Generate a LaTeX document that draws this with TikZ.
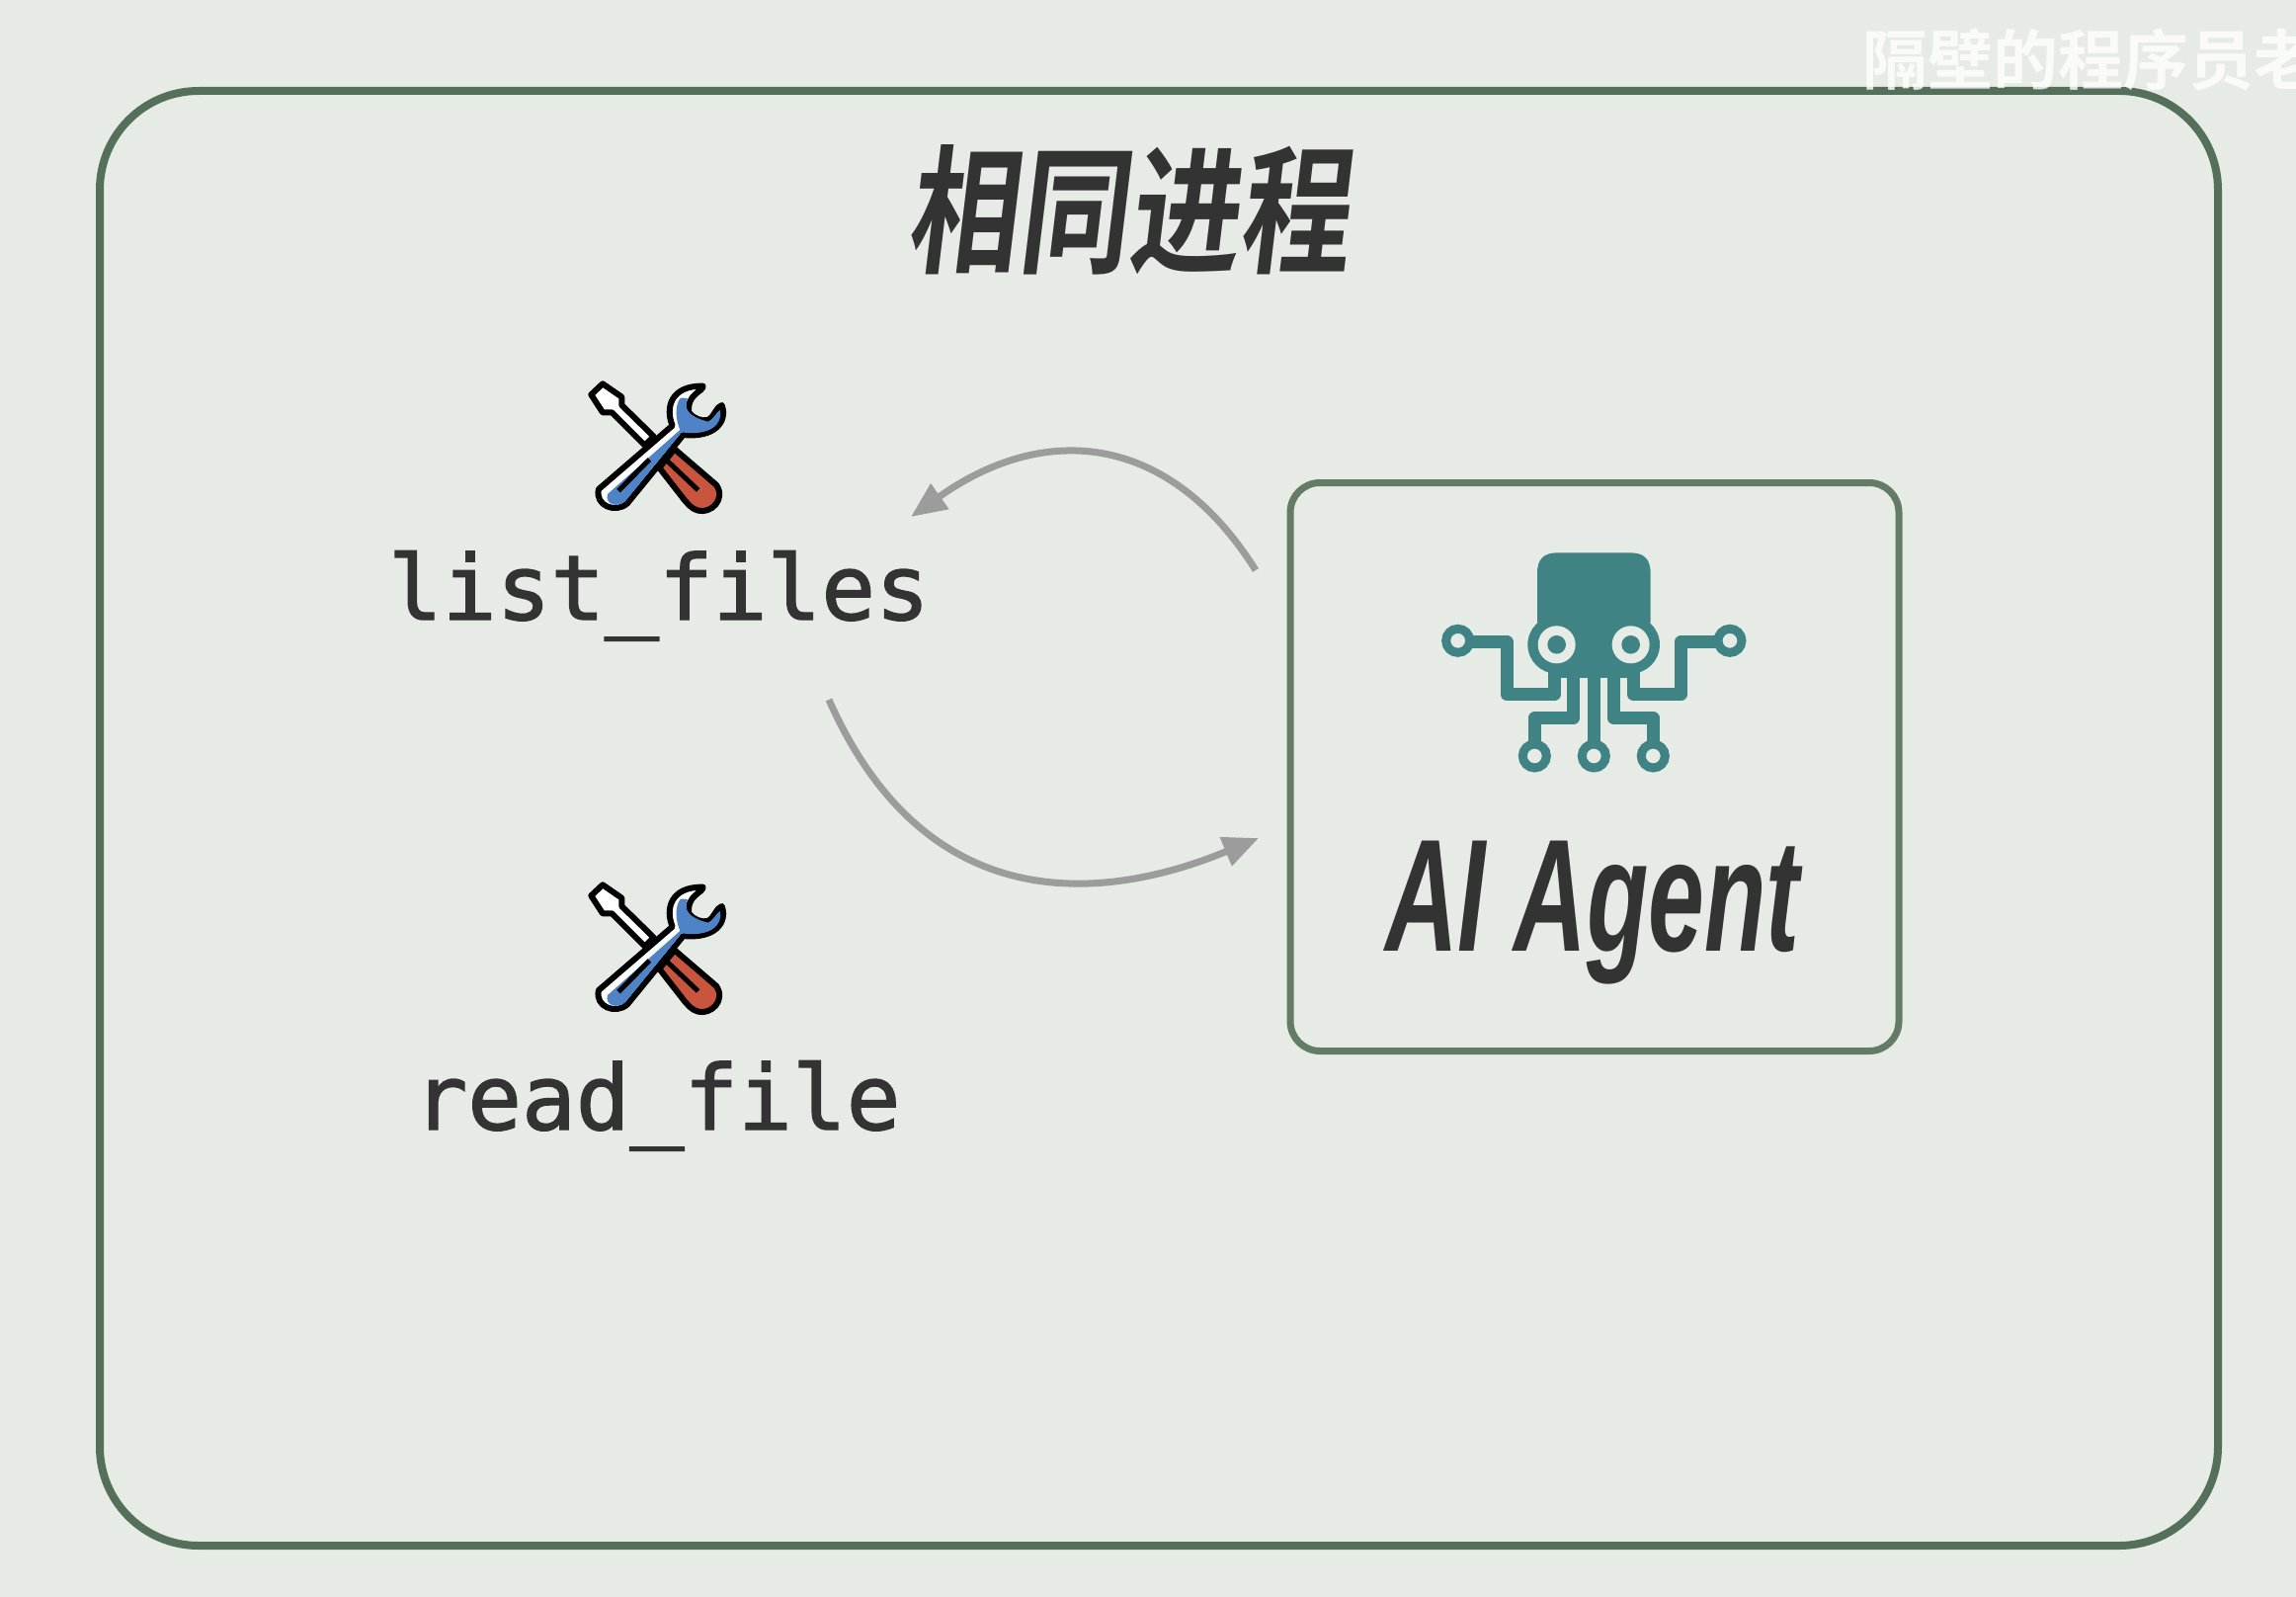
\documentclass[tikz,border=0pt]{standalone}
\usepackage{fontspec}
\usetikzlibrary{arrows.meta}
\newfontfamily\cjkbold[FakeSlant=0.12,FakeStretch=0.8]{Noto Sans CJK SC Bold}
\newfontfamily\markfont{Noto Sans CJK SC Bold}
\newfontfamily\agentfont[FakeStretch=0.63]{Liberation Sans}
\newfontfamily\codefont[FakeBold=1.6]{DejaVu Sans Mono}
\definecolor{bgcol}{HTML}{E7EBE5}
\definecolor{framecol}{HTML}{55705A}
\definecolor{agentcol}{HTML}{647B66}
\definecolor{inkcol}{HTML}{333333}
\definecolor{flowcol}{HTML}{9C9C9C}
\definecolor{tealcol}{HTML}{3F8385}
\definecolor{wrenchcol}{HTML}{4F83C7}
\definecolor{handlecol}{HTML}{C9553F}
\tikzset{
  frame/.style={draw=framecol,line width=8pt,rounded corners=100pt,minimum width=2144pt,minimum height=1472pt},
  agentbox/.style={draw=agentcol,line width=7pt,rounded corners=30pt,minimum width=616pt,minimum height=575pt},
  codelabel/.style={anchor=base,text=inkcol,font=\codefont\fontsize{91}{91}\selectfont},
  flow/.style={draw=flowcol,line width=7pt,-{Triangle[length=36pt,width=30pt]}},
  tools/.pic={
    % screwdriver
    \draw[black,line width=6pt,fill=white,line join=round] (115,118) -- (150,85) -- (208,125) -- (208,150) -- (305,245) -- (278,272) -- (178,172) -- (150,172) -- cycle;
    % handle
    \draw[black,line width=6pt,fill=handlecol,line join=round] (368,283) -- (495,392) .. controls (525,435) and (480,480) .. (440,470) .. controls (420,465) and (410,450) .. (400,440) -- (322,340) -- cycle;
    \draw[black,line width=5pt] (345,318) -- (440,408);
    % wrench
    \draw[black,line width=6pt,fill=white,line join=round] (362,212) .. controls (340,160) and (355,90) .. (455,92) .. controls (455,110) and (405,115) .. (412,172) .. controls (425,190) and (450,200) .. (470,195) .. controls (490,185) and (495,155) .. (512,150) .. controls (530,200) and (490,250) .. (395,240) -- (225,448) .. controls (190,480) and (125,455) .. (138,405) -- cycle;
    \fill[wrenchcol] (385,130) .. controls (395,125) and (400,130) .. (408,130) .. controls (395,160) and (410,185) .. (470,200) .. controls (490,190) and (495,170) .. (507,165) .. controls (515,205) and (480,245) .. (390,232) -- (220,440) .. controls (195,465) and (155,450) .. (165,420) -- (385,225) .. controls (370,190) and (370,150) .. (385,130) -- cycle;
    \draw[black,line width=5pt] (198,410) -- (292,315);
  },
  octopus/.pic={
    \fill[tealcol] (408,300) -- (408,150) .. controls (408,105) and (430,88) .. (470,88) -- (690,88) .. controls (730,88) and (752,105) .. (752,150) -- (752,300) -- cycle;
    \fill[tealcol] (467,367) circle[radius=88];
    \fill[tealcol] (692,367) circle[radius=88];
    \fill[tealcol] (467,300) rectangle (692,468);
    \fill[bgcol] (467,367) circle[radius=57];
    \fill[bgcol] (692,367) circle[radius=57];
    \fill[tealcol] (467,367) circle[radius=28];
    \fill[tealcol] (692,367) circle[radius=28];
    \draw[tealcol,line width=13pt,line join=round]
      (205,358) -- (315,358) -- (315,518) -- (460,518) -- (460,450)
      (955,358) -- (845,358) -- (845,518) -- (700,518) -- (700,450)
      (518,450) -- (518,590) -- (400,590) -- (400,665)
      (580,450) -- (580,665)
      (640,450) -- (640,590) -- (760,590) -- (760,665);
    \draw[tealcol,line width=9pt,fill=bgcol] (167,355) circle[radius=36];
    \draw[tealcol,line width=9pt,fill=bgcol] (993,355) circle[radius=36];
    \draw[tealcol,line width=9pt,fill=bgcol] (400,705) circle[radius=36];
    \draw[tealcol,line width=9pt,fill=bgcol] (580,705) circle[radius=36];
    \draw[tealcol,line width=9pt,fill=bgcol] (760,705) circle[radius=36];
  }
}
\begin{document}
\begin{tikzpicture}[x=1pt,y=-1pt]
\fill[bgcol] (0,0) rectangle (2324,1616);
\useasboundingbox (0,0) rectangle (2324,1616);

\node[frame] (outer) at (1173,828) {};
\node[text=inkcol,font=\cjkbold\fontsize{140}{140}\selectfont] (title) at (1141,212) {相同进程};

\pic[scale=0.3333] at (560,360) {tools};
\node[codelabel] (listfiles) at (667,627) {list\_files};
\pic[scale=0.3333] at (560,867) {tools};
\node[codelabel] (readfile) at (665,1143) {read\_file};

\node[agentbox] (agent) at (1614,776) {};
\pic[scale=0.3333] at (1420,530) {octopus};
\node[anchor=base,text=inkcol,font=\agentfont\bfseries\itshape\fontsize{162}{162}\selectfont] (agentname) at (1612,962) {AI Agent};

\coordinate (agentout) at (1271,577);
\coordinate (listin) at (922,523);
\coordinate (listout) at (839,708);
\coordinate (agentin) at (1274,848);
\draw[flow] (agentout) .. controls (1185,440) and (1060,425) .. (listin);
\draw[flow] (listout) .. controls (935,925) and (1110,916) .. (agentin);

\node[anchor=west,text=white,opacity=0.8,font=\markfont\fontsize{66}{66}\selectfont] (mark) at (1882,60) {隔壁的程序员老};
\end{tikzpicture}
\end{document}
